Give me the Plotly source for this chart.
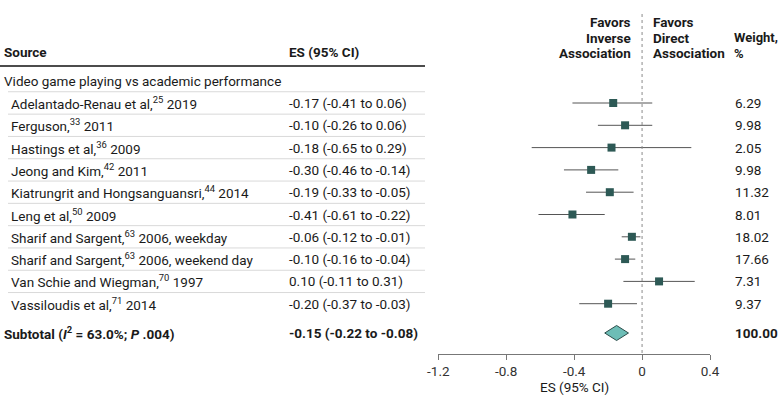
import plotly.graph_objects as go

# ---------------- data ----------------
studies = [
    "Adelantado-Renau et al,<sup>25</sup> 2019",
    "Ferguson,<sup>33</sup> 2011",
    "Hastings et al,<sup>36</sup> 2009",
    "Jeong and Kim,<sup>42</sup> 2011",
    "Kiatrungrit and Hongsanguansri,<sup>44</sup> 2014",
    "Leng et al,<sup>50</sup> 2009",
    "Sharif and Sargent,<sup>63</sup> 2006, weekday",
    "Sharif and Sargent,<sup>63</sup> 2006, weekend day",
    "Van Schie and Wiegman,<sup>70</sup> 1997",
    "Vassiloudis et al,<sup>71</sup> 2014",
]
es = [-0.17, -0.10, -0.18, -0.30, -0.19, -0.41, -0.06, -0.10, 0.10, -0.20]
ci_low = [-0.41, -0.26, -0.65, -0.46, -0.33, -0.61, -0.12, -0.16, -0.11, -0.37]
ci_high = [0.06, 0.06, 0.29, -0.14, -0.05, -0.22, -0.01, -0.04, 0.31, -0.03]
weights = ["6.29", "9.98", "2.05", "9.98", "11.32", "8.01", "18.02", "17.66", "7.31", "9.37"]

subtotal_label = "Subtotal (<i>I</i><sup>2</sup> = 63.0%; <i>P</i> .004)"
subtotal_es = -0.15
subtotal_low = -0.22
subtotal_high = -0.08
subtotal_weight = "100.00"

group_label = "Video game playing vs academic performance"
tick_vals = [-1.2, -0.8, -0.4, 0, 0.4]
tick_text = ["-1.2", "-0.8", "-0.4", "0", "0.4"]

# ---------------- layout helpers ----------------
W, H = 780, 405
FONT = "Roboto"
TXT = "#1a1a1a"
MARK = "#2d5955"
LINE = "#555555"

row0, step = 103.0, 22.3
row_y = [row0 + i * step for i in range(len(studies))]
group_y = 80.5
header_y = 52
sub_y = 333
axis_y = 354

def px(x):
    return x / W

def fmt(v):
    return f"{v:.2f}"

fig = go.Figure()

# CI lines
for i in range(len(studies)):
    fig.add_trace(go.Scatter(
        x=[ci_low[i], ci_high[i]], y=[row_y[i], row_y[i]], mode="lines",
        line=dict(color=LINE, width=1), hoverinfo="skip", showlegend=False))

# point estimates
fig.add_trace(go.Scatter(
    x=es, y=row_y, mode="markers",
    marker=dict(symbol="square", size=8, color=MARK),
    showlegend=False))

# diamond
dh = 7.5
fig.add_trace(go.Scatter(
    x=[subtotal_low, subtotal_es, subtotal_high, subtotal_es, subtotal_low],
    y=[sub_y, sub_y - dh, sub_y, sub_y + dh, sub_y],
    mode="lines", fill="toself", fillcolor="#6dbdb6",
    line=dict(color="#2c4d4a", width=1), showlegend=False, hoverinfo="skip"))

shapes = []
# null line
shapes.append(dict(type="line", xref="x", yref="y", x0=0, x1=0, y0=14, y1=axis_y,
                   line=dict(color="#8a8a8a", width=1, dash="dot")))
# header rule
shapes.append(dict(type="line", xref="paper", yref="y", x0=0, x1=px(425), y0=66, y1=66,
                   line=dict(color="#111111", width=1.5)))
# separators
sep_ys = [(group_y + row_y[0]) / 2] + [(row_y[i] + row_y[i + 1]) / 2 for i in range(len(row_y) - 1)]
for sy in sep_ys:
    shapes.append(dict(type="line", xref="paper", yref="y", x0=px(8), x1=px(425), y0=sy, y1=sy,
                       line=dict(color="#d9d9d9", width=1)))

ann = []
def text(x, y, s, anchor="left", bold=False, size=13, color=TXT):
    ann.append(dict(xref="paper", yref="y", x=px(x), y=y, text=(f"<b>{s}</b>" if bold else s),
                    xanchor=anchor, yanchor="middle", showarrow=False,
                    font=dict(family=FONT, size=size, color=color)))

text(2, header_y, "Source", bold=True, size=13.5)
text(287, header_y, "ES (95% CI)", bold=True, size=13.5)
for yy, s in zip([22, 37.5, 53], ["Favors", "Inverse", "Association"]):
    text(633, yy, s, anchor="right", bold=True, size=13.5)
for yy, s in zip([22, 37.5, 53], ["Favors", "Direct", "Association"]):
    text(651, yy, s, bold=True, size=13.5)
text(732, 37.5, "Weight,", bold=True, size=13)
text(732, 53, "%", bold=True, size=13)

text(2, group_y, group_label, size=13.5)
for i in range(len(studies)):
    text(9, row_y[i], studies[i], size=13.5)
    text(287, row_y[i], f"{fmt(es[i])} ({fmt(ci_low[i])} to {fmt(ci_high[i])})", size=13.5)
    text(733, row_y[i], weights[i], size=13.5)

text(2, sub_y, subtotal_label, bold=True, size=13.5)
text(287, sub_y, f"{fmt(subtotal_es)} ({fmt(subtotal_low)} to {fmt(subtotal_high)})", bold=True, size=13.5)
text(733, sub_y, subtotal_weight, bold=True, size=13.5)

# axis title
ann.append(dict(xref="x", yref="y", x=-0.4, y=387, text="ES (95% CI)", showarrow=False,
                xanchor="center", yanchor="middle", font=dict(family=FONT, size=13.5, color=TXT)))

fig.update_layout(
    width=W, height=H,
    margin=dict(l=0, r=0, t=0, b=0, autoexpand=False),
    paper_bgcolor="white", plot_bgcolor="white",
    shapes=shapes, annotations=ann,
    xaxis=dict(domain=[438.3 / W, 710 / W], range=[-1.2, 0.4], anchor="free",
               position=(H - axis_y) / H, automargin=False,
               tickvals=tick_vals, ticktext=tick_text,
               showline=True, linecolor="#777777", linewidth=1,
               ticks="outside", ticklen=5, tickcolor="#777777",
               showgrid=False, zeroline=False,
               tickfont=dict(family=FONT, size=13.5, color="#333333")),
    yaxis=dict(domain=[0, 1], range=[H, 0], visible=False, showgrid=False, zeroline=False,
               automargin=False),
    showlegend=False,
)

fig.write_html(
    "out.html",
    config={"displayModeBar": False},
    post_script="document.body.style.margin='0';document.body.style.overflow='hidden';",
)
